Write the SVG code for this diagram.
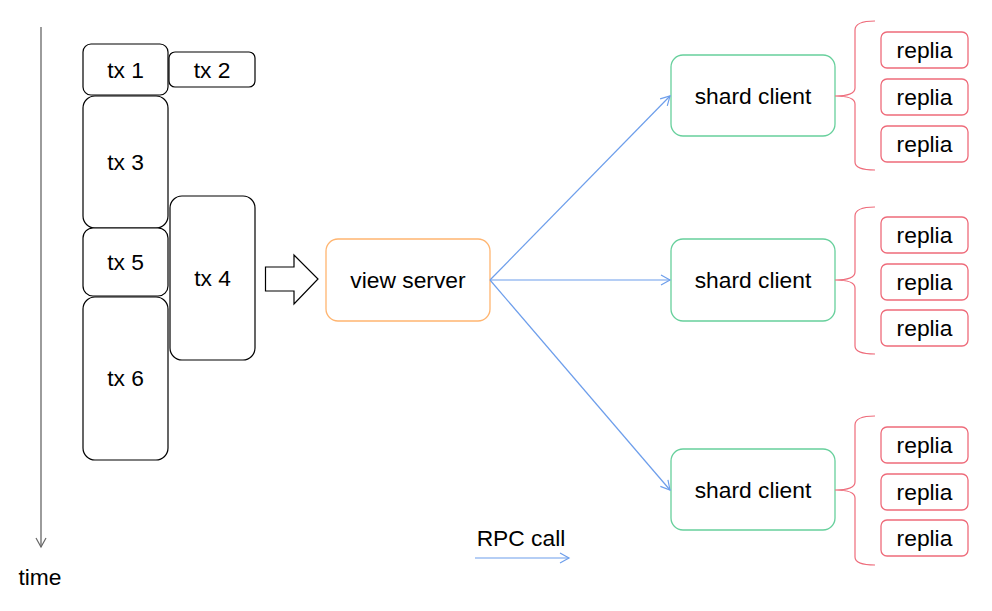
<svg xmlns="http://www.w3.org/2000/svg" width="992" height="611" viewBox="0 0 992 611">
<defs>
<style>
text{font-family:"Liberation Sans",Arial,sans-serif;font-size:22.8px;fill:#000;text-anchor:middle;dominant-baseline:central}
.tx{fill:#fff;stroke:#000;stroke-width:1.2}
.vs{fill:#fff;stroke:#FFB570;stroke-width:1.3}
.sc{fill:#fff;stroke:#67D09C;stroke-width:1.3}
.rp{fill:#fff;stroke:#EE6B7A;stroke-width:1.3}
.br{fill:none;stroke:#EE6B7A;stroke-width:1.2}
.rpc{fill:none;stroke:#6D9EEB;stroke-width:1.2}
</style>
<marker id="ab" markerWidth="12" markerHeight="12" refX="10" refY="6" orient="auto" markerUnits="userSpaceOnUse">
<path d="M1,1 L10,6 L1,11" fill="none" stroke="#6D9EEB" stroke-width="1.2"/>
</marker>
<marker id="ag" markerWidth="12" markerHeight="12" refX="10" refY="6" orient="auto" markerUnits="userSpaceOnUse">
<path d="M1,1 L10,6 L1,11" fill="none" stroke="#666" stroke-width="1.2"/>
</marker>
</defs>
<g id="timeline">
<line x1="41" y1="27" x2="41" y2="547" stroke="#666" stroke-width="1.3" marker-end="url(#ag)"/>
<text x="40" y="577">time</text>
</g>
<g id="tx1"><rect class="tx" x="83" y="44" width="85" height="51" rx="8"/><text x="125.5" y="70">tx 1</text></g>
<g id="tx2"><rect class="tx" x="169" y="52" width="86" height="35" rx="6"/><text x="212" y="70">tx 2</text></g>
<g id="tx3"><rect class="tx" x="83" y="96" width="85" height="132" rx="12"/><text x="125.5" y="162">tx 3</text></g>
<g id="tx5"><rect class="tx" x="83" y="228" width="85" height="68" rx="10"/><text x="125.5" y="262">tx 5</text></g>
<g id="tx6"><rect class="tx" x="83" y="297" width="85" height="163" rx="12"/><text x="125.5" y="378">tx 6</text></g>
<g id="tx4"><rect class="tx" x="170" y="196" width="85" height="164" rx="12"/><text x="212.5" y="278">tx 4</text></g>
<g id="blockarrow"><path d="M265.5,267 L294,267 L294,255 L318,279 L294,304 L294,291 L265.5,291 Z" fill="#fff" stroke="#000" stroke-width="1.2"/></g>
<g id="viewserver"><rect class="vs" x="326" y="239" width="164" height="82" rx="12"/><text x="408" y="280">view server</text></g>
<g id="shard1"><rect class="sc" x="671" y="55" width="164" height="81" rx="12"/><text x="753" y="96">shard client</text></g>
<g id="shard2"><rect class="sc" x="671" y="239" width="164" height="82" rx="12"/><text x="753" y="280">shard client</text></g>
<g id="shard3"><rect class="sc" x="671" y="449" width="164" height="81" rx="12"/><text x="753" y="490">shard client</text></g>
<g id="replicas1">
<path class="br" d="M875,21 Q855,21 855,30 L855,88 Q855,96 835,96 Q855,96 855,104 L855,162 Q855,170 875,170"/>
<rect class="rp" x="881" y="32" width="87" height="36" rx="6"/><text x="924.5" y="50">replia</text>
<rect class="rp" x="881" y="79" width="87" height="36" rx="6"/><text x="924.5" y="97">replia</text>
<rect class="rp" x="881" y="126" width="87" height="36" rx="6"/><text x="924.5" y="144">replia</text>
</g>
<g id="replicas2">
<path class="br" d="M875,207 Q855,207 855,216 L855,272 Q855,280 835,280 Q855,280 855,288 L855,346 Q855,354 875,354"/>
<rect class="rp" x="881" y="217" width="87" height="36" rx="6"/><text x="924.5" y="235">replia</text>
<rect class="rp" x="881" y="264" width="87" height="36" rx="6"/><text x="924.5" y="282">replia</text>
<rect class="rp" x="881" y="310" width="87" height="36" rx="6"/><text x="924.5" y="328">replia</text>
</g>
<g id="replicas3">
<path class="br" d="M875,416 Q855,416 855,425 L855,482 Q855,490 835,490 Q855,490 855,498 L855,557 Q855,565 875,565"/>
<rect class="rp" x="881" y="427" width="87" height="36" rx="6"/><text x="924.5" y="445">replia</text>
<rect class="rp" x="881" y="474" width="87" height="36" rx="6"/><text x="924.5" y="492">replia</text>
<rect class="rp" x="881" y="520" width="87" height="36" rx="6"/><text x="924.5" y="538">replia</text>
</g>
<g id="connectors">
<line class="rpc" x1="490" y1="280" x2="670" y2="96" marker-end="url(#ab)"/>
<line class="rpc" x1="490" y1="280" x2="670" y2="280" marker-end="url(#ab)"/>
<line class="rpc" x1="490" y1="280" x2="670" y2="490" marker-end="url(#ab)"/>
</g>
<g id="legend">
<text x="521" y="538">RPC call</text>
<line class="rpc" x1="475" y1="558" x2="569" y2="558" marker-end="url(#ab)"/>
</g>
</svg>
